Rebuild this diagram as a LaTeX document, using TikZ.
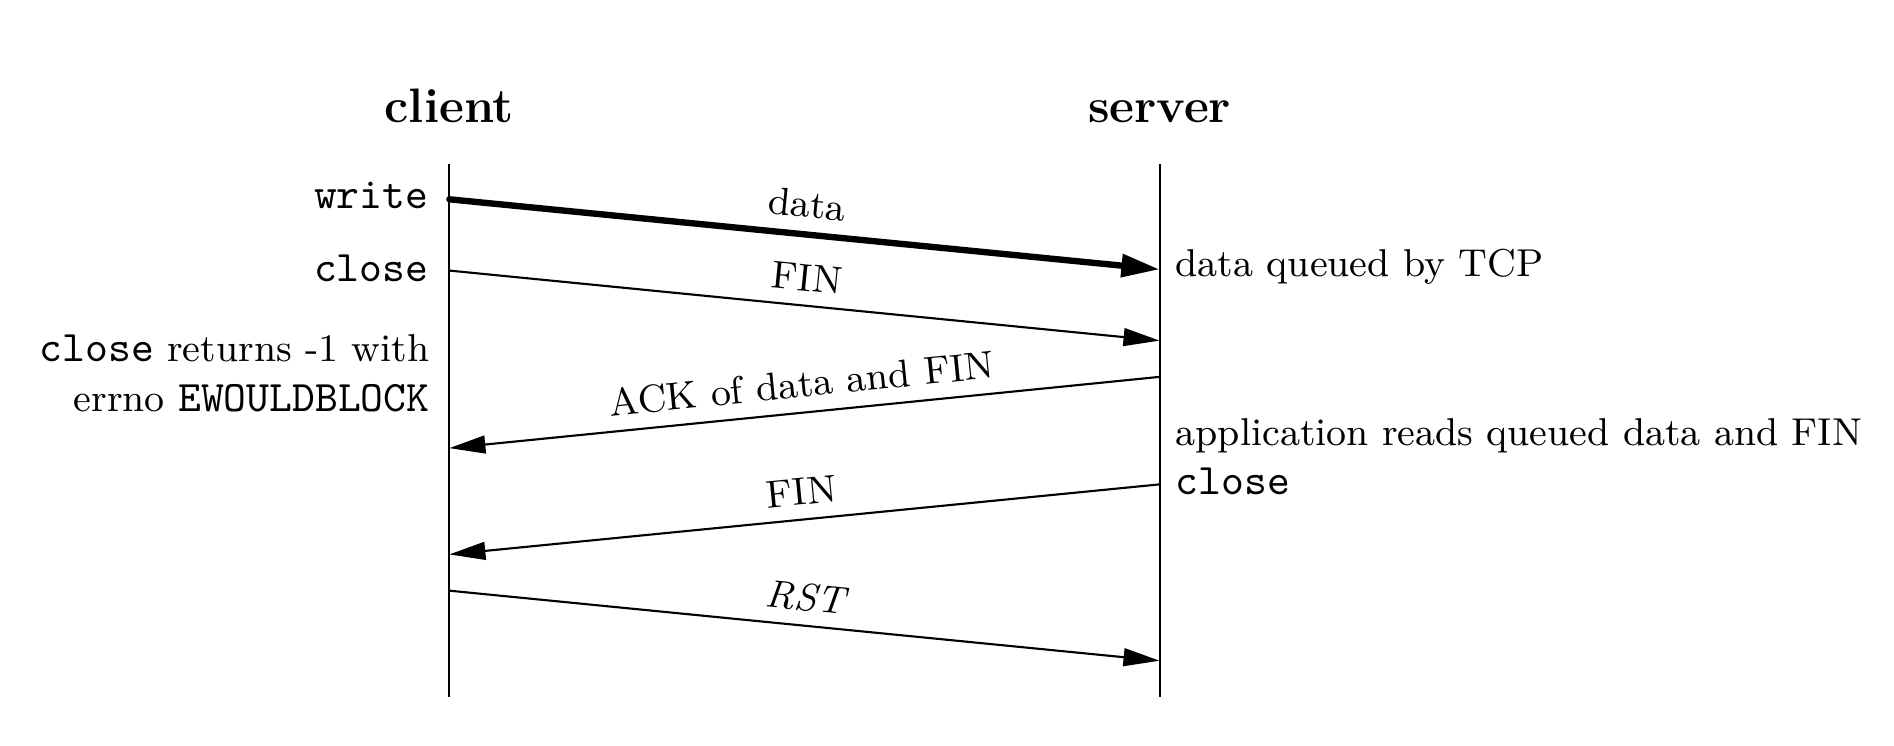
\documentclass[tikz,border=0pt]{standalone}
\usepackage{fontspec}
\setmonofont[Scale=1.12]{Latin Modern Mono}
\usetikzlibrary{arrows.meta}

\begin{document}
\begin{tikzpicture}[x=0.1mm, y=-0.1mm, font=\fontsize{9.15}{11.6}\selectfont,
    msg/.style={-{Triangle[length=8.5pt,width=4.2pt]}, line width=0.5pt},
    lbl/.style={midway, above, sloped, inner sep=3.2pt},
    head/.style={anchor=base, font=\fontsize{11.4}{14}\selectfont\bfseries}]
    \useasboundingbox (0,0) rectangle (1568,617);

    % Headings
    \node[head] (client) at (372,101) {client};
    \node[head] (server) at (960,101) {server};

    % Time lines
    \coordinate (ctop) at (372,136);
    \coordinate (cbot) at (372,577);
    \coordinate (stop) at (960,136);
    \coordinate (sbot) at (960,577);
    \draw[line width=0.5pt] (ctop) -- (cbot);
    \draw[line width=0.5pt] (stop) -- (sbot);

    % Points on the time lines
    \foreach \n/\y in {1/165, 2/224, 3/371, 4/459, 5/489} {
        \coordinate (c\n) at (372,\y);
    }
    \foreach \n/\y in {1/223, 2/282, 3/312, 4/401, 5/547} {
        \coordinate (s\n) at (960,\y);
    }

    % Segments
    \draw[msg, line width=1.5pt, line cap=round, -{Triangle[length=9pt,width=5.2pt]}]
        (c1) -- (s1) node[lbl] {data};
    \draw[msg] (c2) -- (s2) node[lbl] {FIN};
    \draw[msg] (s3) -- (c3) node[lbl] {ACK of data and FIN};
    \draw[msg] (s4) -- (c4) node[lbl] {FIN};
    \draw[msg] (c5) -- (s5) node[lbl] {\textit{RST}};

    % Client side
    \node[anchor=east] (write) at (367,162) {\texttt{write}};
    \node[anchor=east] (close) at (367,222) {\texttt{close}};
    \node[anchor=east, align=right] (ret) at (368,309)
        {\texttt{close} returns -1 with\\errno \texttt{EWOULDBLOCK}};

    % Server side
    \node[anchor=west] (queued) at (961,221) {data queued by TCP};
    \node[anchor=west, align=left] (reads) at (961,378)
        {application reads queued data and FIN\\\texttt{close}};
\end{tikzpicture}
\end{document}
